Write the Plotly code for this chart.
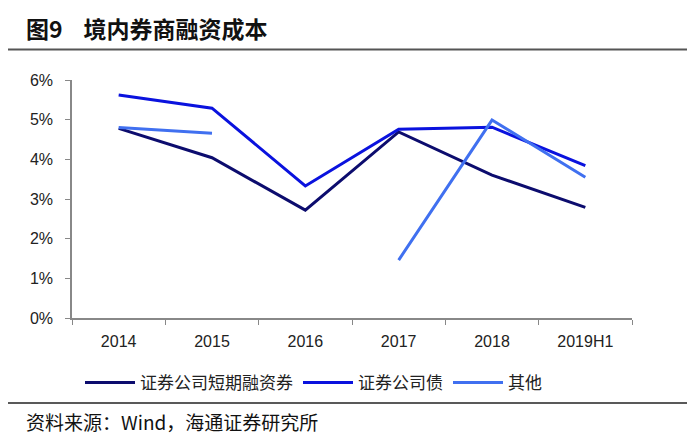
import plotly.graph_objects as go

categories = ["2014", "2015", "2016", "2017", "2018", "2019H1"]
short_term = [4.78, 4.04, 2.72, 4.69, 3.60, 2.79]
corp_bond = [5.62, 5.29, 3.33, 4.76, 4.81, 3.84]
others = [4.80, 4.66, None, 1.46, 4.99, 3.55]
y_ticks = [0, 1, 2, 3, 4, 5, 6]
y_tick_labels = [f"{v}%" for v in y_ticks]

O = 8  # page body offset
W, H = 700 - O, 436 - O
L, R, T, B = 72 - O, 632 - O, 80 - O, 318 - O

def px(x):
    return (x - O - L) / (R - L)

def py(y):
    return (B - (y - O)) / (B - T)

fig = go.Figure()
fig.add_trace(go.Scatter(x=categories, y=short_term, mode="lines", name="证券公司短期融资券",
                         line=dict(color="#0c0c6e", width=3)))
fig.add_trace(go.Scatter(x=categories, y=corp_bond, mode="lines", name="证券公司债",
                         line=dict(color="#0a12de", width=3)))
fig.add_trace(go.Scatter(x=categories, y=others, mode="lines", name="其他",
                         line=dict(color="#4070f0", width=3), connectgaps=False))

axis_font = dict(family="Liberation Sans, Arial, sans-serif", size=16, color="#222")

fig.update_layout(
    width=W, height=H,
    margin=dict(l=L, r=W - R, t=T, b=H - B),
    paper_bgcolor="white", plot_bgcolor="white",
    showlegend=True,
    legend=dict(orientation="h", x=px(80), xanchor="left", y=py(383), yanchor="middle",
                font=dict(family="Noto Sans CJK SC", size=17, color="#222"),
                itemwidth=50, tracegroupgap=0, bgcolor="rgba(0,0,0,0)"),
    xaxis=dict(type="category", range=[-0.5, 5.5], tickson="boundaries", ticks="outside",
               ticklen=5, tickcolor="#888", showline=True, linecolor="#888", linewidth=1.5,
               showgrid=False, tickfont=axis_font, fixedrange=True, ticklabelstandoff=8),
    yaxis=dict(range=[0, 6], tickvals=y_ticks, ticktext=y_tick_labels, ticks="outside",
               ticklen=5, tickcolor="#888", showline=True, linecolor="#888", linewidth=1.5,
               showgrid=False, zeroline=False, tickfont=axis_font, fixedrange=True,
               ticklabelstandoff=9),
)

# decorative rules
for yy, col, w in [(5, "#555", 2.2), (49.5, "#555", 2.2), (403, "#222", 1.5)]:
    fig.add_shape(type="line", xref="paper", yref="paper", x0=px(8), x1=px(687),
                  y0=py(yy), y1=py(yy), line=dict(color=col, width=w))

fig.add_annotation(xref="paper", yref="paper", x=px(24), y=py(28), xanchor="left", yanchor="middle",
                   text="<b>图9&nbsp;&nbsp;&nbsp;&nbsp;境内券商融资成本</b>", showarrow=False,
                   font=dict(family="Noto Sans CJK SC", size=23, color="#111"))
fig.add_annotation(xref="paper", yref="paper", x=px(24), y=py(421), xanchor="left", yanchor="middle",
                   text="资料来源：Wind，海通证券研究所", showarrow=False,
                   font=dict(family="Noto Sans CJK SC", size=19, color="#111"))

fig.write_html("out.html")
